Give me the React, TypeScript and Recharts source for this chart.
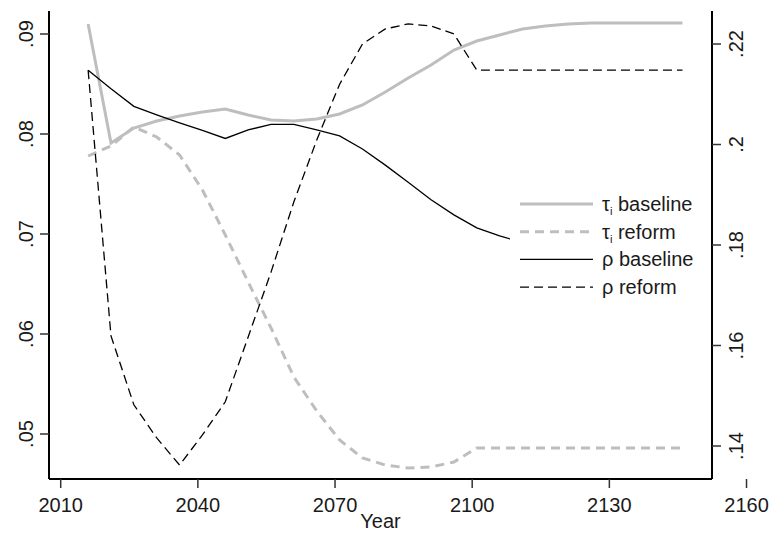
import React from 'react';
import { LineChart, Line, XAxis, YAxis, Legend } from 'recharts';

// Data (5-year grid)
const years = [2016, 2021, 2026, 2031, 2036, 2041, 2046, 2051, 2056, 2061, 2066, 2071, 2076, 2081, 2086, 2091, 2096, 2101, 2106, 2111, 2116, 2121, 2126, 2131, 2136, 2141, 2146];
const tauBaseline = [0.091, 0.0791, 0.0806, 0.0813, 0.0818, 0.0822, 0.0825, 0.0819, 0.0814, 0.0813, 0.0815, 0.082, 0.0829, 0.0842, 0.0856, 0.0869, 0.0884, 0.0893, 0.0899, 0.0905, 0.0908, 0.091, 0.0911, 0.0911, 0.0911, 0.0911, 0.0911];
const tauReform = [0.0778, 0.0788, 0.0807, 0.0797, 0.0779, 0.0744, 0.0699, 0.0652, 0.0606, 0.0557, 0.0523, 0.0494, 0.0476, 0.0469, 0.0466, 0.0467, 0.0472, 0.0486, 0.0486, 0.0486, 0.0486, 0.0486, 0.0486, 0.0486, 0.0486, 0.0486, 0.0486];
const rhoBaseline = [0.2148, 0.2111, 0.2076, 0.2059, 0.2043, 0.2028, 0.2012, 0.2029, 0.204, 0.204, 0.2029, 0.2017, 0.1991, 0.1959, 0.1925, 0.189, 0.186, 0.1834, 0.1818, 0.1805, 0.1796, 0.179, 0.1786, 0.1783, 0.1781, 0.178, 0.1779];
const rhoReform = [0.2148, 0.1619, 0.1482, 0.1416, 0.1362, 0.1422, 0.1488, 0.1617, 0.1746, 0.1886, 0.2009, 0.212, 0.22, 0.223, 0.224, 0.2236, 0.222, 0.2148, 0.2148, 0.2148, 0.2148, 0.2148, 0.2148, 0.2148, 0.2148, 0.2148, 0.2148];

const xTicks = [2010, 2040, 2070, 2100, 2130, 2160];
const leftTicks = [0.05, 0.06, 0.07, 0.08, 0.09];
const rightTicks = [0.14, 0.16, 0.18, 0.2, 0.22];
const xDomain = [2007.44, 2152.45];
const leftDomain = [0.0455, 0.0923];
const rightDomain = [0.13343, 0.22657];

const data = years.map((year, i) => ({
  year,
  tauBaseline: tauBaseline[i],
  tauReform: tauReform[i],
  rhoBaseline: rhoBaseline[i],
  rhoReform: rhoReform[i],
}));

const FONT = '"Liberation Sans", Arial, sans-serif';
const TEXT = '#1a1a1a';
const GRAY = '#bebebe';

const series = [
  { key: 'tauBaseline', axis: 'left', color: GRAY, width: 3, dash: undefined as string | undefined, sym: 'τ', sub: 'i', text: 'baseline' },
  { key: 'tauReform', axis: 'left', color: GRAY, width: 3, dash: '9 6', sym: 'τ', sub: 'i', text: 'reform' },
  { key: 'rhoBaseline', axis: 'right', color: '#000', width: 1.3, dash: undefined as string | undefined, sym: 'ρ', sub: '', text: 'baseline' },
  { key: 'rhoReform', axis: 'right', color: '#000', width: 1.3, dash: '9 5', sym: 'ρ', sub: '', text: 'reform' },
];

const fmt = (v: number) => String(v).replace(/^0(?=\.)/, '');

const VTick = (props: any) => {
  const { x, y, payload } = props;
  return (
    <text x={x} y={y} transform={`rotate(-90 ${x} ${y})`} textAnchor="middle" fontSize={20} fontFamily={FONT} fill={TEXT}>
      {fmt(payload.value)}
    </text>
  );
};

const XTick = (props: any) => {
  const { x, y, payload } = props;
  return (
    <text x={x} y={y} textAnchor="middle" fontSize={20} fontFamily={FONT} fill={TEXT}>
      {payload.value}
    </text>
  );
};

const LegendContent = () => (
  <div style={{ width: 198, height: 112, background: '#fff' }}>
    <svg width={198} height={112} style={{ display: 'block' }}>
      {series.map((s, i) => {
        const cy = 15 + i * 27.7;
        return (
          <g key={s.key}>
            <line x1={10} x2={83} y1={cy} y2={cy} stroke={s.color} strokeWidth={s.width} strokeDasharray={s.dash} />
            <text x={92} y={cy + 7} fontSize={20} fontFamily={FONT} fill={TEXT}>
              {s.sym}
              {s.sub ? <tspan fontSize={11} dy={4}>{s.sub}</tspan> : null}
              <tspan dy={s.sub ? -4 : 0}>{' ' + s.text}</tspan>
            </text>
          </g>
        );
      })}
    </svg>
  </div>
);

const axisLine = { stroke: '#000', strokeWidth: 2 };
const tickLine = { stroke: '#333', strokeWidth: 1.5 };

export default function App() {
  return (
    <div style={{ position: 'absolute', left: 0, top: 0, background: '#fff' }}>
      <LineChart width={772} height={535} data={data} margin={{ top: 11, right: 0, bottom: 0, left: 0 }}>
        <XAxis
          xAxisId="x"
          dataKey="year"
          type="number"
          domain={xDomain}
          allowDataOverflow
          ticks={xTicks}
          interval={0}
          height={56}
          tickSize={9}
          tickMargin={24}
          axisLine={axisLine}
          tickLine={tickLine}
          tick={<XTick />}
          label={{ value: 'Year', position: 'insideBottom', offset: 7, fontSize: 20, fontFamily: FONT, fill: TEXT }}
        />
        <XAxis
          xAxisId="top"
          orientation="top"
          type="number"
          dataKey="year"
          domain={xDomain}
          allowDataOverflow
          height={0}
          tick={false}
          tickLine={false}
          axisLine={axisLine}
        />
        <YAxis
          yAxisId="left"
          type="number"
          domain={leftDomain}
          allowDataOverflow
          ticks={leftTicks}
          interval={0}
          width={49}
          tickSize={9}
          tickMargin={7}
          axisLine={axisLine}
          tickLine={tickLine}
          tick={<VTick />}
        />
        <YAxis
          yAxisId="right"
          orientation="right"
          type="number"
          domain={rightDomain}
          allowDataOverflow
          ticks={rightTicks}
          interval={0}
          width={60}
          tickSize={9}
          tickMargin={22}
          axisLine={axisLine}
          tickLine={tickLine}
          tick={<VTick />}
        />
        {series.map((s) => (
          <Line
            key={s.key}
            xAxisId="x"
            yAxisId={s.axis}
            dataKey={s.key}
            name={s.sym + s.sub + ' ' + s.text}
            type="linear"
            stroke={s.color}
            strokeWidth={s.width}
            strokeDasharray={s.dash}
            dot={false}
            activeDot={false}
            isAnimationActive={false}
          />
        ))}
        <Legend
          layout="vertical"
          align="center"
          verticalAlign="middle"
          content={<LegendContent />}
          wrapperStyle={{ left: 510, top: 189, width: 198, height: 112, margin: 0, padding: 0 }}
        />
      </LineChart>
    </div>
  );
}
